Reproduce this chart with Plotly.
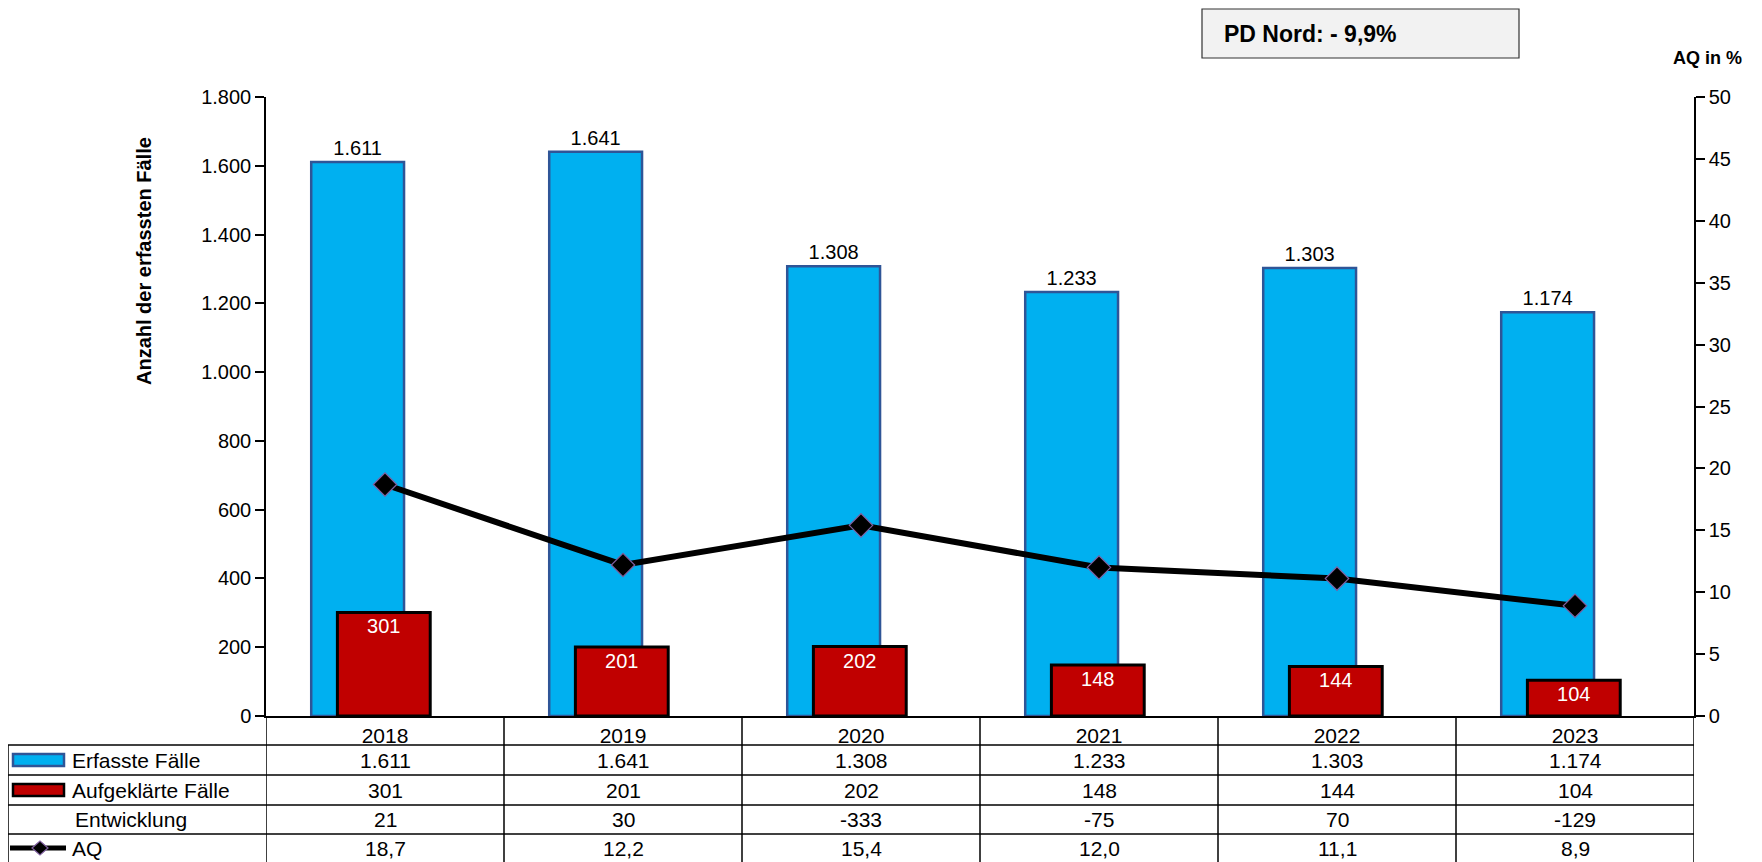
import plotly.graph_objects as go

# data
years = ["2018", "2019", "2020", "2021", "2022", "2023"]
erfasste = [1611, 1641, 1308, 1233, 1303, 1174]
aufgeklaerte = [301, 201, 202, 148, 144, 104]
entwicklung = [21, 30, -333, -75, 70, -129]
aq = [18.7, 12.2, 15.4, 12.0, 11.1, 8.9]
row_labels = ["Erfasste Fälle", "Aufgeklärte Fälle", "Entwicklung", "AQ"]

OFF = 8  # page body margin
W, H = 1762 - OFF, 862 - OFF
L, R, T, B = 266, 1694, 97, 716  # plot area in screen px

FONT = "Liberation Sans, Arial, sans-serif"
BLUE, BLUE_EDGE = "#00B0F0", "#2F5597"
RED = "#C00000"


def px_x(x):
    return (x - L) / (R - L)


def px_y(y):
    return (B - y) / (B - T)


def de_int(v):
    return f"{v:,}".replace(",", ".")


def de_dec(v):
    return f"{v:.1f}".replace(".", ",")


fig = go.Figure()

fig.add_trace(go.Bar(
    x=years, y=erfasste, name="Erfasste Fälle",
    offset=-0.31, width=0.39,
    marker=dict(color=BLUE, line=dict(color=BLUE_EDGE, width=2.5)),
    texttemplate="%{y:,}", textposition="outside", textangle=0,
    textfont=dict(family=FONT, size=20, color="black"),
    cliponaxis=False,
))
fig.add_trace(go.Bar(
    x=years, y=aufgeklaerte, name="Aufgeklärte Fälle",
    offset=-0.2, width=0.39,
    marker=dict(color=RED, line=dict(color="black", width=3)),
    texttemplate="%{y}", textposition="inside", insidetextanchor="end",
    textangle=0, constraintext="none",
    textfont=dict(family=FONT, size=20, color="white"),
))
fig.add_trace(go.Scatter(
    x=years, y=aq, name="AQ", yaxis="y2", mode="lines+markers",
    line=dict(color="black", width=6),
    marker=dict(symbol="diamond", size=18, color="black",
                line=dict(color="#7F5F9F", width=1.2)),
))

# ---- data table under the chart ----
rows_y = [760, 790, 819.5, 848]
ann = []
for vals, fmt, yy in [(erfasste, de_int, rows_y[0]), (aufgeklaerte, de_int, rows_y[1]),
                      (entwicklung, str, rows_y[2]), (aq, de_dec, rows_y[3])]:
    for i, v in enumerate(vals):
        ann.append(dict(x=i, y=px_y(yy), xref="x", yref="paper", text=fmt(v),
                        xanchor="center", yanchor="middle", showarrow=False,
                        font=dict(family=FONT, size=21, color="black")))

label_x = [70, 70, 73, 70]
for lab, lx, yy in zip(row_labels, label_x, rows_y):
    ann.append(dict(x=px_x(lx), y=px_y(yy), xref="paper", yref="paper", text=lab,
                    xanchor="left", yanchor="middle", showarrow=False,
                    font=dict(family=FONT, size=21, color="black")))

# titles and box text
ann.append(dict(x=px_x(144), y=px_y(261), xref="paper", yref="paper",
                xanchor="center", yanchor="middle",
                text="<b>Anzahl der erfassten Fälle</b>", textangle=-90, showarrow=False,
                font=dict(family=FONT, size=20, color="black")))
ann.append(dict(x=px_x(1744), y=px_y(58), xref="paper", yref="paper",
                xanchor="right", yanchor="middle",
                text="<b>AQ in %</b>", showarrow=False,
                font=dict(family=FONT, size=18, color="black")))
ann.append(dict(x=px_x(1222), y=px_y(34), xref="paper", yref="paper",
                xanchor="left", yanchor="middle",
                text="<b>PD Nord: - 9,9%</b>", showarrow=False,
                font=dict(family=FONT, size=23, color="black")))

shapes = []
line_k = dict(color="black", width=1.5)
# horizontal table lines
for yy in [745, 775, 805, 834]:
    shapes.append(dict(type="line", xref="paper", yref="paper",
                       x0=px_x(8), x1=1, y0=px_y(yy), y1=px_y(yy), line=line_k))
# left border of label column
shapes.append(dict(type="line", xref="paper", yref="paper",
                   x0=px_x(8), x1=px_x(8), y0=px_y(745), y1=px_y(870), line=line_k))
# column boundaries
for i in range(len(years) + 1):
    shapes.append(dict(type="line", xref="x", yref="paper",
                       x0=i - 0.5, x1=i - 0.5, y0=0, y1=px_y(870), line=line_k))

# legend keys
shapes.append(dict(type="rect", xref="paper", yref="paper",
                   x0=px_x(13), x1=px_x(64), y0=px_y(754), y1=px_y(766),
                   fillcolor=BLUE, line=dict(color=BLUE_EDGE, width=2.5)))
shapes.append(dict(type="rect", xref="paper", yref="paper",
                   x0=px_x(13), x1=px_x(64), y0=px_y(784), y1=px_y(796),
                   fillcolor=RED, line=dict(color="black", width=2.5)))
shapes.append(dict(type="line", xref="paper", yref="paper",
                   x0=px_x(10), x1=px_x(66), y0=px_y(848), y1=px_y(848),
                   line=dict(color="black", width=5)))
cx, cy = 40, 848
pts = [(cx - 8, cy), (cx, cy - 7), (cx + 8, cy), (cx, cy + 7)]
path = "M " + " L ".join(f"{px_x(a)},{px_y(b)}" for a, b in pts) + " Z"
shapes.append(dict(type="path", xref="paper", yref="paper", path=path,
                   fillcolor="black", line=dict(color="#7F5F9F", width=1.2)))

# PD Nord box
shapes.append(dict(type="rect", xref="paper", yref="paper",
                   x0=px_x(1202), x1=px_x(1519), y0=px_y(9), y1=px_y(58),
                   fillcolor="#F2F2F2", line=dict(color="#333333", width=1.2), layer="below"))

fig.update_layout(
    width=W, height=H,
    margin=dict(l=L - OFF, r=W - (R - OFF), t=T - OFF, b=H - (B - OFF), pad=0),
    paper_bgcolor="white", plot_bgcolor="white",
    barmode="overlay", showlegend=False,
    separators=",.",
    font=dict(family=FONT, size=20, color="black"),
    xaxis=dict(type="category", showline=True, linecolor="black", linewidth=1.5,
               ticks="", showgrid=False, tickfont=dict(size=21), range=[-0.5, 5.5]),
    yaxis=dict(range=[0, 1800], dtick=200, tickformat=",d", ticks="outside", ticklen=9,
               tickwidth=1.5, tickcolor="black", showline=True, linecolor="black",
               linewidth=1.5, showgrid=False, zeroline=False, tickfont=dict(size=20)),
    yaxis2=dict(overlaying="y", side="right", range=[0, 50], dtick=5, ticks="outside",
                ticklen=9, tickwidth=1.5, tickcolor="black", showline=True,
                linecolor="black", linewidth=1.5, showgrid=False, zeroline=False,
                tickfont=dict(size=20)),
    annotations=ann,
    shapes=shapes,
)

fig.write_html("out.html")
